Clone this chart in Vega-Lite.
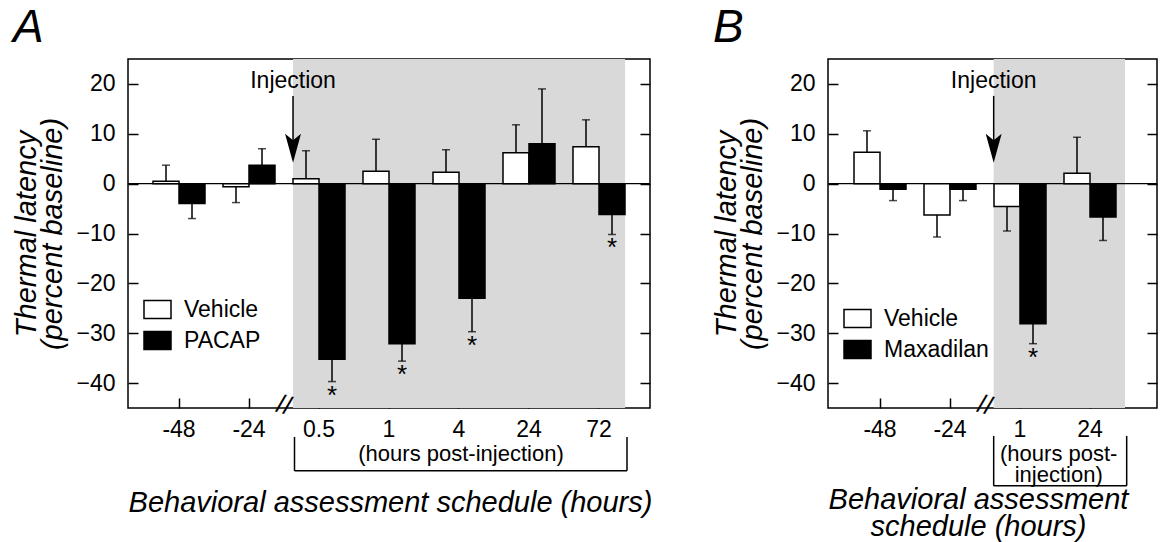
{
  "$schema": "https://vega.github.io/schema/vega-lite/v6.json",
  "background": "white",
  "padding": {"left": 12, "top": 4, "right": 0, "bottom": 0},
  "config": {
    "font": "Liberation Sans",
    "view": {"stroke": "black", "strokeWidth": 1.5},
    "axis": {
      "labelFont": "Liberation Sans", "labelFontSize": 23, "labelColor": "black",
      "titleFont": "Liberation Sans", "titleFontSize": 29, "titleFontStyle": "italic",
      "titleFontWeight": "normal", "titleColor": "black",
      "tickColor": "black", "tickWidth": 1.5, "domain": false, "grid": false
    },
    "title": {"fontSize": 46, "fontStyle": "italic", "fontWeight": "normal", "anchor": "start", "frame": "bounds", "color": "black", "font": "Liberation Sans", "offset": 7},
    "text": {"font": "Liberation Sans", "color": "black"}
  },
  "datasets": {
    "barsA": [
      {"time": "-48", "group": "Vehicle", "value": 0.5, "errEnd": 3.7, "sig": false},
      {"time": "-48", "group": "PACAP", "value": -4.0, "errEnd": -7.0, "sig": false},
      {"time": "-24", "group": "Vehicle", "value": -0.6, "errEnd": -3.8, "sig": false},
      {"time": "-24", "group": "PACAP", "value": 3.7, "errEnd": 7.0, "sig": false},
      {"time": "0.5", "group": "Vehicle", "value": 1.0, "errEnd": 6.6, "sig": false},
      {"time": "0.5", "group": "PACAP", "value": -35.2, "errEnd": -39.7, "sig": true},
      {"time": "1", "group": "Vehicle", "value": 2.5, "errEnd": 8.9, "sig": false},
      {"time": "1", "group": "PACAP", "value": -32.1, "errEnd": -35.6, "sig": true},
      {"time": "4", "group": "Vehicle", "value": 2.3, "errEnd": 6.8, "sig": false},
      {"time": "4", "group": "PACAP", "value": -23.0, "errEnd": -29.7, "sig": true},
      {"time": "24", "group": "Vehicle", "value": 6.2, "errEnd": 11.8, "sig": false},
      {"time": "24", "group": "PACAP", "value": 8.0, "errEnd": 19.0, "sig": false},
      {"time": "72", "group": "Vehicle", "value": 7.4, "errEnd": 12.8, "sig": false},
      {"time": "72", "group": "PACAP", "value": -6.2, "errEnd": -10.2, "sig": true}
    ],
    "barsB": [
      {"time": "-48", "group": "Vehicle", "value": 6.3, "errEnd": 10.6, "sig": false},
      {"time": "-48", "group": "Maxadilan", "value": -1.1, "errEnd": -3.4, "sig": false},
      {"time": "-24", "group": "Vehicle", "value": -6.3, "errEnd": -10.7, "sig": false},
      {"time": "-24", "group": "Maxadilan", "value": -1.1, "errEnd": -3.4, "sig": false},
      {"time": "1", "group": "Vehicle", "value": -4.6, "errEnd": -9.5, "sig": false},
      {"time": "1", "group": "Maxadilan", "value": -28.1, "errEnd": -32.1, "sig": true},
      {"time": "24", "group": "Vehicle", "value": 2.1, "errEnd": 9.3, "sig": false},
      {"time": "24", "group": "Maxadilan", "value": -6.7, "errEnd": -11.4, "sig": false}
    ],
    "notesA": [{"from": "0.5", "to": "72", "mid": "4", "inj": "Injection", "brk": "//", "post": "(hours post-injection)"}],
    "notesB": [{"from": "1", "to": "24", "mid": "24", "inj": "Injection", "brk": "//", "post": "(hours post-\ninjection)"}]
  },
  "hconcat": [
    {
      "width": 522, "height": 349,
      "title": {"text": "A"},
      "layer": [
        {
          "data": {"name": "notesA"},
          "mark": {"type": "rect", "color": "#d9d9d9"},
          "encoding": {
            "x": {"field": "from", "type": "ordinal", "bandPosition": 0.129, "scale": {"domain": ["-48","-24","0.5","1","4","24","72"], "paddingInner": 0, "paddingOuter": 0.2286}, "axis": null},
            "x2": {"field": "to", "bandPosition": 0.873}
          }
        },
        {
          "data": {"name": "notesA"},
          "mark": {"type": "rule", "color": "black", "strokeWidth": 1.2},
          "encoding": {"y": {"datum": 0, "type": "quantitative", "scale": {"domain": [-45, 25], "nice": false}, "axis": null}}
        },
        {
          "data": {"name": "barsA"},
          "mark": {"type": "bar", "stroke": "black", "strokeWidth": 1.5},
          "encoding": {
            "x": {"field": "time", "type": "ordinal", "scale": {"domain": ["-48","-24","0.5","1","4","24","72"], "paddingInner": 0, "paddingOuter": 0.2286},
                  "axis": {"title": "Behavioral assessment schedule (hours)", "titleX": 262, "tickSize": -10, "labelPadding": 20, "titlePadding": 47, "labelAngle": 0}},
            "xOffset": {"field": "group", "type": "nominal", "scale": {"domain": ["Vehicle","PACAP"], "paddingInner": 0, "paddingOuter": 0.346}},
            "y": {"field": "value", "type": "quantitative", "stack": null, "scale": {"domain": [-45, 25], "nice": false},
                  "axis": {"orient": "left", "values": [-40,-30,-20,-10,0,10,20], "tickSize": -10, "labelPadding": 23, "title": ["Thermal latency", "(percent baseline)"], "titlePadding": 8, "titleLineHeight": 26}},
            "fill": {"field": "group", "type": "nominal", "scale": {"domain": ["Vehicle","PACAP"], "range": ["white","black"]},
                     "legend": {"orient": "none", "legendX": 15, "legendY": 236, "title": null, "symbolType": "M-1,-0.667H1V0.667H-1Z", "symbolSize": 729, "symbolStrokeColor": "black", "symbolStrokeWidth": 1.5, "labelFontSize": 23, "labelFont": "Liberation Sans", "labelColor": "black", "labelOffset": 12, "rowPadding": 4, "padding": 0}}
          }
        },
        {
          "data": {"name": "barsA"},
          "mark": {"type": "rule", "color": "black", "strokeWidth": 1.5},
          "encoding": {
            "x": {"field": "time", "type": "ordinal", "scale": {"domain": ["-48","-24","0.5","1","4","24","72"], "paddingInner": 0, "paddingOuter": 0.2286}, "axis": null},
            "xOffset": {"field": "group", "type": "nominal", "scale": {"domain": ["Vehicle","PACAP"], "paddingInner": 0, "paddingOuter": 0.346}},
            "y": {"field": "value", "type": "quantitative", "scale": {"domain": [-45, 25], "nice": false},
                  "axis": {"orient": "right", "values": [-40,-30,-20,-10,0,10,20], "tickSize": -10, "labels": false, "title": null}},
            "y2": {"field": "errEnd"}
          }
        },
        {
          "data": {"name": "barsA"},
          "mark": {"type": "tick", "orient": "horizontal", "color": "black", "size": 8, "thickness": 1.5},
          "encoding": {
            "x": {"field": "time", "type": "ordinal", "scale": {"domain": ["-48","-24","0.5","1","4","24","72"], "paddingInner": 0, "paddingOuter": 0.2286}, "axis": null},
            "xOffset": {"field": "group", "type": "nominal", "scale": {"domain": ["Vehicle","PACAP"], "paddingInner": 0, "paddingOuter": 0.346}},
            "y": {"field": "errEnd", "type": "quantitative", "scale": {"domain": [-45, 25], "nice": false}, "axis": null}
          }
        },
        {
          "data": {"name": "barsA"},
          "transform": [{"filter": "datum.sig"}],
          "mark": {"type": "text", "text": "*", "fontSize": 26, "baseline": "top", "dy": 1, "align": "center"},
          "encoding": {
            "x": {"field": "time", "type": "ordinal", "scale": {"domain": ["-48","-24","0.5","1","4","24","72"], "paddingInner": 0, "paddingOuter": 0.2286}, "axis": null},
            "xOffset": {"field": "group", "type": "nominal", "scale": {"domain": ["Vehicle","PACAP"], "paddingInner": 0, "paddingOuter": 0.346}},
            "y": {"field": "errEnd", "type": "quantitative", "scale": {"domain": [-45, 25], "nice": false}, "axis": null}
          }
        },
        {
          "data": {"name": "notesA"},
          "mark": {"type": "text", "fontSize": 23, "baseline": "middle", "align": "center"},
          "encoding": {
            "x": {"field": "from", "type": "ordinal", "bandPosition": 0.129, "scale": {"domain": ["-48","-24","0.5","1","4","24","72"], "paddingInner": 0, "paddingOuter": 0.2286}, "axis": null},
            "y": {"datum": 20.5, "type": "quantitative", "scale": {"domain": [-45, 25], "nice": false}, "axis": null},
            "text": {"field": "inj"}
          }
        },
        {
          "data": {"name": "notesA"},
          "mark": {"type": "rule", "color": "black", "strokeWidth": 1.5},
          "encoding": {
            "x": {"field": "from", "type": "ordinal", "bandPosition": 0.129, "scale": {"domain": ["-48","-24","0.5","1","4","24","72"], "paddingInner": 0, "paddingOuter": 0.2286}, "axis": null},
            "y": {"datum": 17.6, "type": "quantitative", "scale": {"domain": [-45, 25], "nice": false}, "axis": null},
            "y2": {"datum": 7.5}
          }
        },
        {
          "data": {"name": "notesA"},
          "mark": {"type": "point", "shape": "M0,1L-0.55,-1L0,-0.55L0.55,-1Z", "filled": true, "color": "black", "size": 841, "opacity": 1},
          "encoding": {
            "x": {"field": "from", "type": "ordinal", "bandPosition": 0.129, "scale": {"domain": ["-48","-24","0.5","1","4","24","72"], "paddingInner": 0, "paddingOuter": 0.2286}, "axis": null},
            "y": {"datum": 7.1, "type": "quantitative", "scale": {"domain": [-45, 25], "nice": false}, "axis": null}
          }
        },
        {
          "data": {"name": "notesA"},
          "mark": {"type": "text", "fontSize": 26, "baseline": "middle", "align": "center", "angle": 15},
          "encoding": {
            "x": {"field": "from", "type": "ordinal", "bandPosition": 0, "scale": {"domain": ["-48","-24","0.5","1","4","24","72"], "paddingInner": 0, "paddingOuter": 0.2286}, "axis": null},
            "y": {"datum": -44.5, "type": "quantitative", "scale": {"domain": [-45, 25], "nice": false}, "axis": null},
            "text": {"field": "brk"}
          }
        },
        {
          "data": {"name": "notesA"},
          "mark": {"type": "rule", "color": "black", "strokeWidth": 1.5},
          "encoding": {
            "x": {"field": "from", "type": "ordinal", "bandPosition": 0.15, "scale": {"domain": ["-48","-24","0.5","1","4","24","72"], "paddingInner": 0, "paddingOuter": 0.2286}, "axis": null},
            "y": {"datum": -50.8, "type": "quantitative", "scale": {"domain": [-45, 25], "nice": false}, "axis": null},
            "y2": {"datum": -57.6}
          }
        },
        {
          "data": {"name": "notesA"},
          "mark": {"type": "rule", "color": "black", "strokeWidth": 1.5},
          "encoding": {
            "x": {"field": "to", "type": "ordinal", "bandPosition": 0.9, "scale": {"domain": ["-48","-24","0.5","1","4","24","72"], "paddingInner": 0, "paddingOuter": 0.2286}, "axis": null},
            "y": {"datum": -50.8, "type": "quantitative", "scale": {"domain": [-45, 25], "nice": false}, "axis": null},
            "y2": {"datum": -57.6}
          }
        },
        {
          "data": {"name": "notesA"},
          "mark": {"type": "rule", "color": "black", "strokeWidth": 1.5},
          "encoding": {
            "x": {"field": "from", "type": "ordinal", "bandPosition": 0.15, "scale": {"domain": ["-48","-24","0.5","1","4","24","72"], "paddingInner": 0, "paddingOuter": 0.2286}, "axis": null},
            "x2": {"field": "to", "bandPosition": 0.9},
            "y": {"datum": -57.6, "type": "quantitative", "scale": {"domain": [-45, 25], "nice": false}, "axis": null}
          }
        },
        {
          "data": {"name": "notesA"},
          "mark": {"type": "text", "fontSize": 22, "baseline": "middle", "align": "center", "dx": 2},
          "encoding": {
            "x": {"field": "mid", "type": "ordinal", "scale": {"domain": ["-48","-24","0.5","1","4","24","72"], "paddingInner": 0, "paddingOuter": 0.2286}, "axis": null},
            "y": {"datum": -54.3, "type": "quantitative", "scale": {"domain": [-45, 25], "nice": false}, "axis": null},
            "text": {"field": "post"}
          }
        }
      ],
      "resolve": {"axis": {"x": "independent", "y": "independent"}}
    },
    {
      "width": 329, "height": 349,
      "title": {"text": "B"},
      "layer": [
        {
          "data": {"name": "notesB"},
          "mark": {"type": "rect", "color": "#d9d9d9"},
          "encoding": {
            "x": {"field": "from", "type": "ordinal", "bandPosition": 0.124, "scale": {"domain": ["-48","-24","1","24"], "paddingInner": 0, "paddingOuter": 0.35, "align": 0.347}, "axis": null},
            "x2": {"field": "to", "bandPosition": 1.0}
          }
        },
        {
          "data": {"name": "notesB"},
          "mark": {"type": "rule", "color": "black", "strokeWidth": 1.2},
          "encoding": {"y": {"datum": 0, "type": "quantitative", "scale": {"domain": [-45, 25], "nice": false}, "axis": null}}
        },
        {
          "data": {"name": "barsB"},
          "mark": {"type": "bar", "stroke": "black", "strokeWidth": 1.5},
          "encoding": {
            "x": {"field": "time", "type": "ordinal", "scale": {"domain": ["-48","-24","1","24"], "paddingInner": 0, "paddingOuter": 0.35, "align": 0.347},
                  "axis": {"title": ["Behavioral assessment", "schedule (hours)"], "titleX": 150, "tickSize": -10, "labelPadding": 20, "titlePadding": 44, "titleLineHeight": 27, "labelAngle": 0}},
            "xOffset": {"field": "group", "type": "nominal", "scale": {"domain": ["Vehicle","Maxadilan"], "paddingInner": 0, "paddingOuter": 0.346}},
            "y": {"field": "value", "type": "quantitative", "stack": null, "scale": {"domain": [-45, 25], "nice": false},
                  "axis": {"orient": "left", "values": [-40,-30,-20,-10,0,10,20], "tickSize": -10, "labelPadding": 23, "title": ["Thermal latency", "(percent baseline)"], "titlePadding": 8, "titleLineHeight": 26}},
            "fill": {"field": "group", "type": "nominal", "scale": {"domain": ["Vehicle","Maxadilan"], "range": ["white","black"]},
                     "legend": {"orient": "none", "legendX": 15, "legendY": 245, "title": null, "symbolType": "M-1,-0.667H1V0.667H-1Z", "symbolSize": 729, "symbolStrokeColor": "black", "symbolStrokeWidth": 1.5, "labelFontSize": 23, "labelFont": "Liberation Sans", "labelColor": "black", "labelOffset": 12, "rowPadding": 4, "padding": 0}}
          }
        },
        {
          "data": {"name": "barsB"},
          "mark": {"type": "rule", "color": "black", "strokeWidth": 1.5},
          "encoding": {
            "x": {"field": "time", "type": "ordinal", "scale": {"domain": ["-48","-24","1","24"], "paddingInner": 0, "paddingOuter": 0.35, "align": 0.347}, "axis": null},
            "xOffset": {"field": "group", "type": "nominal", "scale": {"domain": ["Vehicle","Maxadilan"], "paddingInner": 0, "paddingOuter": 0.346}},
            "y": {"field": "value", "type": "quantitative", "scale": {"domain": [-45, 25], "nice": false},
                  "axis": {"orient": "right", "values": [-40,-30,-20,-10,0,10,20], "tickSize": -10, "labels": false, "title": null}},
            "y2": {"field": "errEnd"}
          }
        },
        {
          "data": {"name": "barsB"},
          "mark": {"type": "tick", "orient": "horizontal", "color": "black", "size": 8, "thickness": 1.5},
          "encoding": {
            "x": {"field": "time", "type": "ordinal", "scale": {"domain": ["-48","-24","1","24"], "paddingInner": 0, "paddingOuter": 0.35, "align": 0.347}, "axis": null},
            "xOffset": {"field": "group", "type": "nominal", "scale": {"domain": ["Vehicle","Maxadilan"], "paddingInner": 0, "paddingOuter": 0.346}},
            "y": {"field": "errEnd", "type": "quantitative", "scale": {"domain": [-45, 25], "nice": false}, "axis": null}
          }
        },
        {
          "data": {"name": "barsB"},
          "transform": [{"filter": "datum.sig"}],
          "mark": {"type": "text", "text": "*", "fontSize": 26, "baseline": "top", "dy": 1, "align": "center"},
          "encoding": {
            "x": {"field": "time", "type": "ordinal", "scale": {"domain": ["-48","-24","1","24"], "paddingInner": 0, "paddingOuter": 0.35, "align": 0.347}, "axis": null},
            "xOffset": {"field": "group", "type": "nominal", "scale": {"domain": ["Vehicle","Maxadilan"], "paddingInner": 0, "paddingOuter": 0.346}},
            "y": {"field": "errEnd", "type": "quantitative", "scale": {"domain": [-45, 25], "nice": false}, "axis": null}
          }
        },
        {
          "data": {"name": "notesB"},
          "mark": {"type": "text", "fontSize": 23, "baseline": "middle", "align": "center"},
          "encoding": {
            "x": {"field": "from", "type": "ordinal", "bandPosition": 0.124, "scale": {"domain": ["-48","-24","1","24"], "paddingInner": 0, "paddingOuter": 0.35, "align": 0.347}, "axis": null},
            "y": {"datum": 20.5, "type": "quantitative", "scale": {"domain": [-45, 25], "nice": false}, "axis": null},
            "text": {"field": "inj"}
          }
        },
        {
          "data": {"name": "notesB"},
          "mark": {"type": "rule", "color": "black", "strokeWidth": 1.5},
          "encoding": {
            "x": {"field": "from", "type": "ordinal", "bandPosition": 0.124, "scale": {"domain": ["-48","-24","1","24"], "paddingInner": 0, "paddingOuter": 0.35, "align": 0.347}, "axis": null},
            "y": {"datum": 17.6, "type": "quantitative", "scale": {"domain": [-45, 25], "nice": false}, "axis": null},
            "y2": {"datum": 7.5}
          }
        },
        {
          "data": {"name": "notesB"},
          "mark": {"type": "point", "shape": "M0,1L-0.55,-1L0,-0.55L0.55,-1Z", "filled": true, "color": "black", "size": 841, "opacity": 1},
          "encoding": {
            "x": {"field": "from", "type": "ordinal", "bandPosition": 0.124, "scale": {"domain": ["-48","-24","1","24"], "paddingInner": 0, "paddingOuter": 0.35, "align": 0.347}, "axis": null},
            "y": {"datum": 7.1, "type": "quantitative", "scale": {"domain": [-45, 25], "nice": false}, "axis": null}
          }
        },
        {
          "data": {"name": "notesB"},
          "mark": {"type": "text", "fontSize": 26, "baseline": "middle", "align": "center", "angle": 15},
          "encoding": {
            "x": {"field": "from", "type": "ordinal", "bandPosition": 0, "scale": {"domain": ["-48","-24","1","24"], "paddingInner": 0, "paddingOuter": 0.35, "align": 0.347}, "axis": null},
            "y": {"datum": -44.5, "type": "quantitative", "scale": {"domain": [-45, 25], "nice": false}, "axis": null},
            "text": {"field": "brk"}
          }
        },
        {
          "data": {"name": "notesB"},
          "mark": {"type": "rule", "color": "black", "strokeWidth": 1.5},
          "encoding": {
            "x": {"field": "from", "type": "ordinal", "bandPosition": 0.124, "scale": {"domain": ["-48","-24","1","24"], "paddingInner": 0, "paddingOuter": 0.35, "align": 0.347}, "axis": null},
            "y": {"datum": -50.6, "type": "quantitative", "scale": {"domain": [-45, 25], "nice": false}, "axis": null},
            "y2": {"datum": -60.6}
          }
        },
        {
          "data": {"name": "notesB"},
          "mark": {"type": "rule", "color": "black", "strokeWidth": 1.5},
          "encoding": {
            "x": {"field": "to", "type": "ordinal", "bandPosition": 1.024, "scale": {"domain": ["-48","-24","1","24"], "paddingInner": 0, "paddingOuter": 0.35, "align": 0.347}, "axis": null},
            "y": {"datum": -50.6, "type": "quantitative", "scale": {"domain": [-45, 25], "nice": false}, "axis": null},
            "y2": {"datum": -60.6}
          }
        },
        {
          "data": {"name": "notesB"},
          "mark": {"type": "rule", "color": "black", "strokeWidth": 1.5},
          "encoding": {
            "x": {"field": "from", "type": "ordinal", "bandPosition": 0.124, "scale": {"domain": ["-48","-24","1","24"], "paddingInner": 0, "paddingOuter": 0.35, "align": 0.347}, "axis": null},
            "x2": {"field": "to", "bandPosition": 1.024},
            "y": {"datum": -60.6, "type": "quantitative", "scale": {"domain": [-45, 25], "nice": false}, "axis": null}
          }
        },
        {
          "data": {"name": "notesB"},
          "mark": {"type": "text", "fontSize": 22, "baseline": "middle", "align": "center", "lineBreak": "\n", "lineHeight": 21},
          "encoding": {
            "x": {"field": "mid", "type": "ordinal", "bandPosition": 0.053, "scale": {"domain": ["-48","-24","1","24"], "paddingInner": 0, "paddingOuter": 0.35, "align": 0.347}, "axis": null},
            "y": {"datum": -54.3, "type": "quantitative", "scale": {"domain": [-45, 25], "nice": false}, "axis": null},
            "text": {"field": "post"}
          }
        }
      ],
      "resolve": {"axis": {"x": "independent", "y": "independent"}}
    }
  ],
  "spacing": 178,
  "bounds": "flush",
  "resolve": {"scale": {"x": "independent", "y": "independent", "fill": "independent", "xOffset": "independent"}, "legend": {"fill": "independent"}}
}
